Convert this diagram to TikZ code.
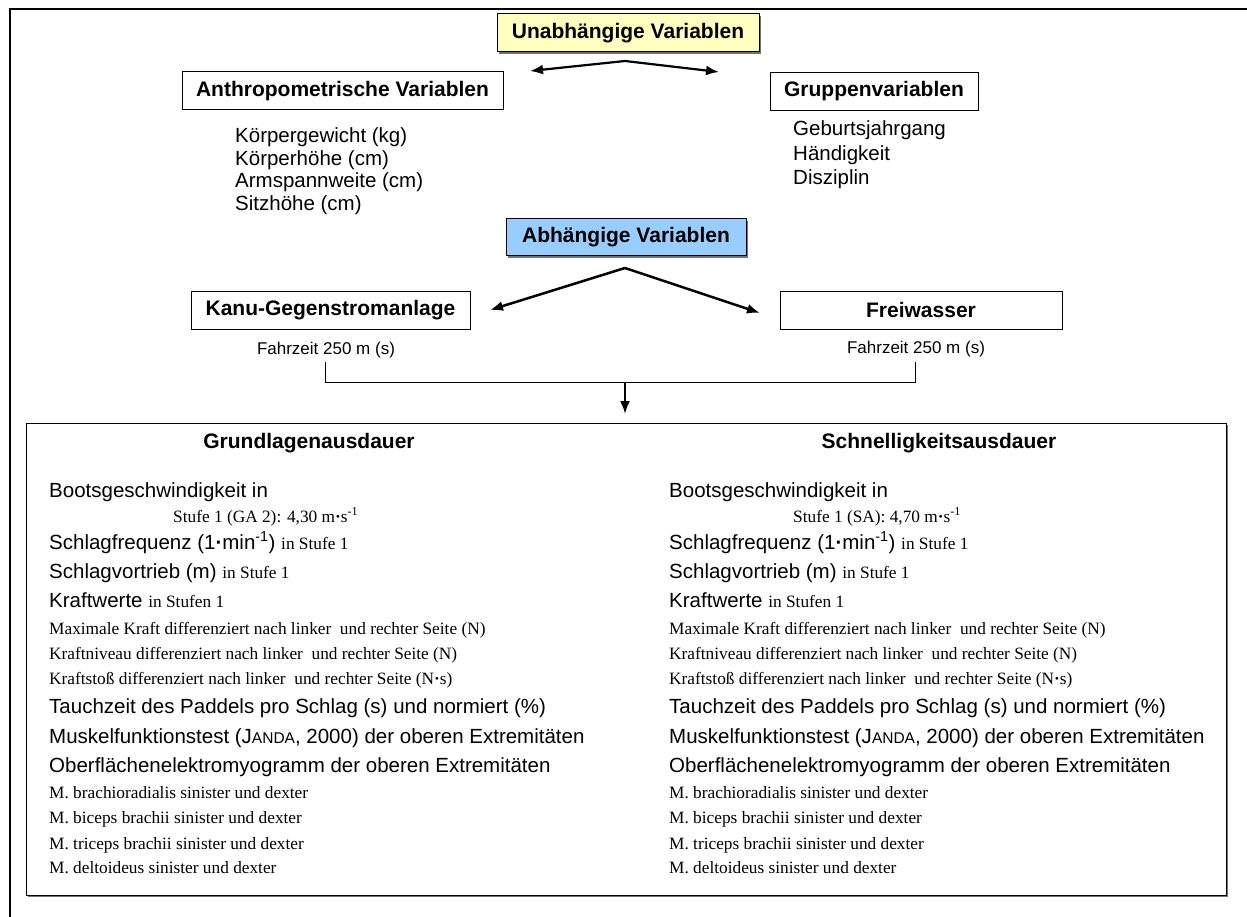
\documentclass[tikz,border=0pt]{standalone}
\usepackage{fontspec}
\setmainfont{Liberation Serif}
\setsansfont{Liberation Sans}
\usetikzlibrary{arrows.meta,shadows}
\definecolor{yel}{HTML}{FFFFC0}
\definecolor{blu}{HTML}{99CCFF}
\newcommand\fhd{\sffamily\bfseries\fontsize{21}{25}\selectfont}
\newcommand\ftx{\sffamily\fontsize{20.5}{24}\selectfont}
\newcommand\fsm{\rmfamily\fontsize{17.3}{20}\selectfont}
\newcommand\fmd{\sffamily\fontsize{17}{20}\selectfont}
\newcommand\mydot{{\bfseries ·}}
\tikzset{
 box/.style={draw, line width=1pt, inner sep=0pt, minimum height=38pt, font=\fhd, fill=white},
 shd/.style={drop shadow={shadow xshift=2pt, shadow yshift=-2pt, fill=black!55, opacity=1}},
 arr/.style={line width=2.5pt, -{Latex[length=13pt,width=10pt]}},
 txt/.style={anchor=base west, inner sep=0pt, font=\ftx},
 sml/.style={anchor=base west, inner sep=0pt, font=\fsm},
 mid/.style={anchor=center, inner sep=0pt, font=\fmd},
 thin/.style={line width=1pt},
}
\begin{document}
\begin{tikzpicture}[x=1pt,y=-1pt]
\useasboundingbox (0,0) rectangle (1247,917);
% outer frame
\coordinate (fa) at (10,917);
\coordinate (fb) at (10,9);
\coordinate (fc) at (1247,9);
\draw[line width=2.5pt, line join=miter] (fa) -- (fb) -- (fc);

% independent variables
\node[box, shd, fill=yel, minimum width=262pt] (unab) at (628,33) {Unabhängige Variablen};
\node[box, minimum width=321pt] (anth) at (342.5,91) {Anthropometrische Variablen};
\node[box, minimum width=208pt] (grup) at (874,91.5) {Gruppenvariablen};
\coordinate (t1) at (625,61);
\coordinate (tl) at (530,71);
\coordinate (tr) at (719,72);
\draw[arr, line width=2.2pt] (t1) -- (tl);
\draw[arr, line width=2.2pt] (t1) -- (tr);

\node[txt] (a1) at (235,143) {Körpergewicht (kg)};
\node[txt] (a2) at (235,165.5) {Körperhöhe (cm)};
\node[txt] (a3) at (235,188) {Armspannweite (cm)};
\node[txt] (a4) at (235,210.5) {Sitzhöhe (cm)};
\node[txt] (g1) at (793,136) {Geburtsjahrgang};
\node[txt] (g2) at (793,160.5) {Händigkeit};
\node[txt] (g3) at (793,185) {Disziplin};

% dependent variables
\node[box, shd, fill=blu, minimum width=240pt, minimum height=37pt] (abh) at (626,237.5) {Abhängige Variablen};
\node[box, minimum width=279pt] (kanu) at (330.5,310) {Kanu-Gegenstromanlage};
\node[box, minimum width=282pt] (frei) at (921,310) {Freiwasser};
\coordinate (p2) at (625,268);
\coordinate (al) at (490,310);
\coordinate (ar) at (760,313);
\draw[arr] (p2) -- (al);
\draw[arr] (p2) -- (ar);

\node[mid] (fzl) at (326,350) {Fahrzeit 250 m (s)};
\node[mid] (fzr) at (916,349) {Fahrzeit 250 m (s)};
\coordinate (bl) at (325,362);
\coordinate (br) at (915,362);
\coordinate (bm) at (625,382);
\coordinate (bt) at (625,414);
\draw[thin] (bl) -- ++(0,20) -| (br);
\draw[arr, line width=2.2pt] (bm) -- (bt);

% big box
\node[draw, line width=1pt, shd, fill=white, minimum width=1200pt, minimum height=472pt, inner sep=0pt] (big) at (626,659) {};
\node[anchor=base, inner sep=0pt, font=\fhd] (gh) at (309,448) {Grundlagenausdauer};
\node[anchor=base, inner sep=0pt, font=\fhd] (sh) at (939,448) {Schnelligkeitsausdauer};

\foreach \c/\x in {L/49,R/669}{
 \node[txt] (\c1) at (\x,497) {Bootsgeschwindigkeit in};
 \node[txt] (\c3) at (\x,549) {Schlagfrequenz (1\mydot min\textsuperscript{-1}) {\fsm in Stufe 1}};
 \node[txt] (\c4) at (\x,578) {Schlagvortrieb (m) {\fsm in Stufe 1}};
 \node[txt] (\c5) at (\x,607) {Kraftwerte {\fsm in Stufen 1}};
 \node[sml] (\c6) at (\x,634) {Maximale Kraft differenziert nach linker\ \ und rechter Seite (N)};
 \node[sml] (\c7) at (\x,659) {Kraftniveau differenziert nach linker\ \ und rechter Seite (N)};
 \node[sml] (\c8) at (\x,684) {Kraftstoß differenziert nach linker\ \ und rechter Seite (N\mydot s)};
 \node[txt] (\c9) at (\x,713) {Tauchzeit des Paddels pro Schlag (s) und normiert (\%)};
 \node[txt] (\c10) at (\x,743) {Muskelfunktionstest (J{\fontsize{15.5}{18}\selectfont ANDA}, 2000) der oberen Extremitäten};
 \node[txt] (\c11) at (\x,772) {Oberflächenelektromyogramm der oberen Extremitäten};
 \node[sml] (\c12) at (\x,798) {M. brachioradialis sinister und dexter};
 \node[sml] (\c13) at (\x,823) {M. biceps brachii sinister und dexter};
 \node[sml] (\c14) at (\x,849) {M. triceps brachii sinister und dexter};
 \node[sml] (\c15) at (\x,873) {M. deltoideus sinister und dexter};
}
\node[sml] (L2) at (173,522) {Stufe 1 (GA 2): 4,30 m\mydot s\textsuperscript{-1}};
\node[sml] (R2) at (793,522) {Stufe 1 (SA): 4,70 m\mydot s\textsuperscript{-1}};
\end{tikzpicture}
\end{document}
